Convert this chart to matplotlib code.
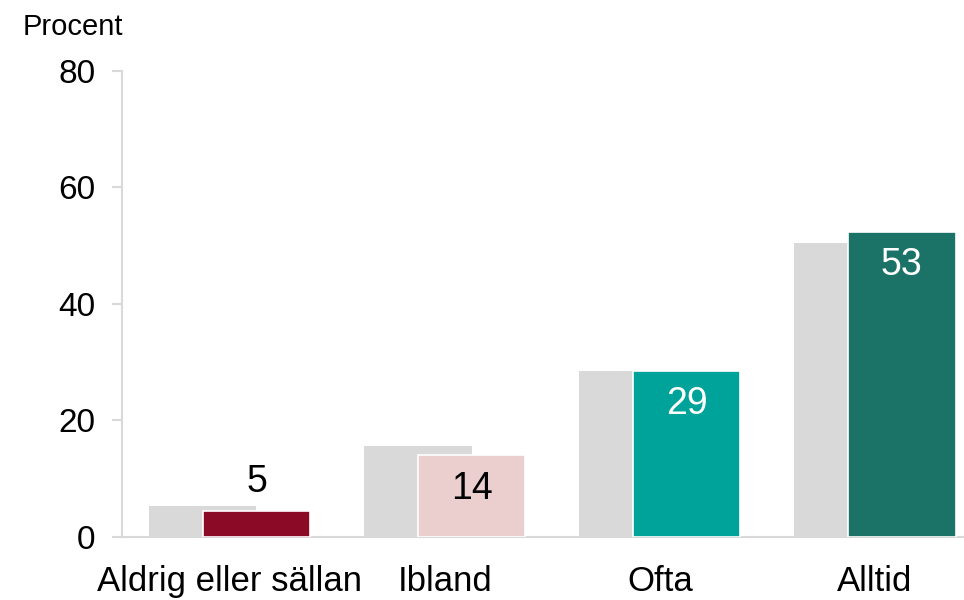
import matplotlib.pyplot as plt
import numpy as np

plt.rcParams['font.family'] = ['Liberation Sans', 'DejaVu Sans']

categories = ['Aldrig eller sällan', 'Ibland', 'Ofta', 'Alltid']
previous = [5.3, 15.7, 28.5, 50.4]
current = [4.5, 14.0, 28.5, 52.4]
labels = ['5', '14', '29', '53']
colors = ['#8B0A25', '#EBCFCF', '#00A39A', '#1B7367']
label_colors = ['black', 'black', 'white', 'white']

fig = plt.figure(figsize=(9.64, 6.0), dpi=100)
ax = fig.add_axes([0.1266, 0.105, 0.8734, 0.7767])

x = np.arange(len(categories))
w = 0.5
ax.bar(x - 0.125, previous, width=w, color='#D9D9D9', zorder=2)
bars = ax.bar(x + 0.125, current, width=w, color=colors,
              edgecolor='white', linewidth=1.2, zorder=3)

# value labels: small bar gets label above, others inside near the top
for b, lab, lc in zip(bars, labels, label_colors):
    h = b.get_height()
    cx = b.get_x() + b.get_width() / 2
    off = 21 if h < 8 else -24
    ax.annotate(lab, (cx, h), xytext=(0, off), textcoords='offset points',
                ha='center', va='center', fontsize=27, color=lc)

ax.set_xlim(-0.5, 3.414)
ax.set_ylim(0, 80)
ax.set_yticks([0, 20, 40, 60, 80])
ax.set_xticks(x)
ax.set_xticklabels(categories, fontsize=25)
ax.tick_params(axis='y', labelsize=24, length=7, width=1.5, color='#D9D9D9', pad=12)
ax.tick_params(axis='x', length=0, pad=20)

for s in ['top', 'right']:
    ax.spines[s].set_visible(False)
ax.spines['left'].set_color('#D9D9D9')
ax.spines['left'].set_linewidth(1.5)
ax.spines['bottom'].set_color('#D9D9D9')
ax.spines['bottom'].set_linewidth(1.5)

fig.text(0.023, 0.955, 'Procent', fontsize=21, ha='left', va='center')

fig.savefig('out.png', dpi=100)
